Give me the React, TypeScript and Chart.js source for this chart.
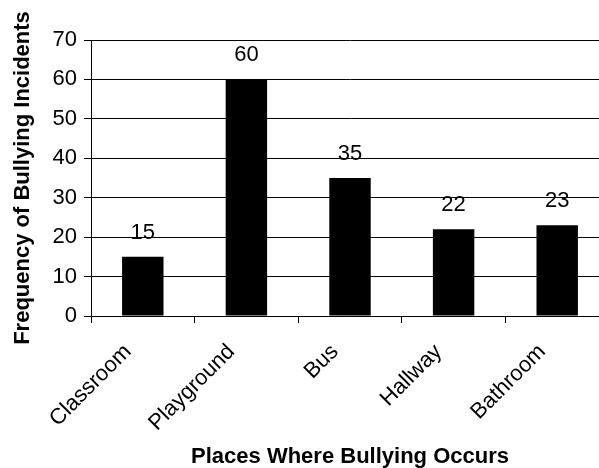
import React, { useEffect, useRef } from "react";
import { Chart, registerables } from "chart.js";

Chart.register(...registerables);

const categories = ["Classroom", "Playground", "Bus", "Hallway", "Bathroom"];
const frequencies = [15, 60, 35, 22, 23];
const yTicks = [0, 10, 20, 30, 40, 50, 60, 70];
const xTitle = "Places Where Bullying Occurs";
const yTitle = "Frequency of Bullying Incidents";

const FONT = "'Liberation Sans', Arial, Helvetica, sans-serif";

const valueLabels = {
  id: "valueLabels",
  afterDatasetsDraw(chart: any) {
    const ctx = chart.ctx;
    const meta = chart.getDatasetMeta(0);
    ctx.save();
    ctx.font = `22px ${FONT}`;
    ctx.fillStyle = "#000";
    ctx.textAlign = "center";
    ctx.textBaseline = "middle";
    meta.data.forEach((bar: any, i: number) => {
      ctx.fillText(String(frequencies[i]), bar.x, bar.y - 24);
    });
    ctx.restore();
  },
};

export default function App() {
  const ref = useRef<HTMLCanvasElement>(null);
  useEffect(() => {
    if (!ref.current) return;
    Chart.defaults.font.family = FONT;
    const chart = new Chart(ref.current, {
      type: "bar",
      data: {
        labels: categories,
        datasets: [
          {
            data: frequencies,
            backgroundColor: "#000",
            borderColor: "#000",
            borderWidth: 0,
            barPercentage: 0.4,
            categoryPercentage: 1,
          },
        ],
      },
      options: {
        responsive: false,
        animation: false,
        layout: { padding: { top: 40, left: 0, right: 0, bottom: 0 } },
        plugins: { legend: { display: false }, tooltip: { enabled: false } },
        scales: {
          x: {
            type: "category",
            offset: true,
            grid: {
              offset: true,
              drawOnChartArea: false,
              drawTicks: true,
              tickLength: 7,
              color: "#000",
            },
            border: { display: true, color: "#000", width: 1 },
            ticks: {
              minRotation: 45,
              maxRotation: 45,
              autoSkip: false,
              color: "#000",
              padding: 16,
              labelOffset: -15,
              font: { size: 22, family: FONT },
            },
            title: {
              display: true,
              text: xTitle,
              color: "#000",
              font: { size: 22, weight: "bold", family: FONT, lineHeight: 1 },
              padding: { top: 0, bottom: 0.5 },
            },
            afterFit(scale: any) {
              scale.height = 152;
            },
          },
          y: {
            min: 0,
            max: 70,
            afterBuildTicks(scale: any) {
              scale.ticks = yTicks.map((v) => ({ value: v }));
            },
            grid: { color: "#000", lineWidth: 1, drawTicks: true, tickLength: 7 },
            border: { display: true, color: "#000", width: 1 },
            ticks: {
              color: "#000",
              padding: 7,
              font: { size: 22, family: FONT },
            },
            title: {
              display: true,
              text: yTitle,
              color: "#000",
              font: { size: 22, weight: "bold", family: FONT, lineHeight: 1 },
              padding: { top: 11.5, bottom: 0 },
            },
            afterFit(scale: any) {
              scale.width = 91;
            },
          },
        },
      },
      plugins: [valueLabels],
    });
    return () => chart.destroy();
  }, []);

  return (
    <div
      style={{
        position: "fixed",
        left: 0,
        top: 0,
        width: 599,
        height: 468,
        overflow: "hidden",
        background: "#fff",
      }}
    >
      <canvas ref={ref} width={609} height={468} style={{ width: 609, height: 468, display: "block" }} />
    </div>
  );
}
